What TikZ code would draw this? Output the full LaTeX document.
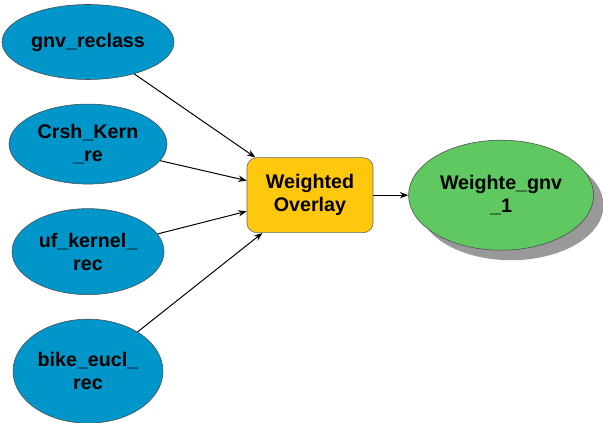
\documentclass[tikz,border=0pt]{standalone}
\usepackage{fontspec}
\setmainfont{Liberation Sans}
\usetikzlibrary{shapes.geometric,positioning,shadows,arrows.meta}

\definecolor{inblue}{RGB}{0,150,202}
\definecolor{toolyellow}{RGB}{255,200,12}
\definecolor{outgreen}{RGB}{96,200,96}

\begin{document}
\begin{tikzpicture}[>={Stealth[length=6pt,width=4.5pt]},node distance=0.6cm,
  font=\fontsize{14}{16.5}\selectfont\bfseries,
  data/.style={ellipse,draw=black!70,fill=inblue,inner sep=0pt,align=center},
  tool/.style={rectangle,rounded corners=7pt,draw=black!60,fill=toolyellow,align=center,
    minimum width=3.15cm,minimum height=1.875cm},
  result/.style={ellipse,draw=black!70,fill=outgreen,inner sep=0pt,align=center,
    drop shadow={shadow xshift=0.25cm,shadow yshift=-0.25cm,fill=black!40,opacity=1}}]

\useasboundingbox (0,0) rectangle (15.075,-10.575);

\node[data,minimum width=4.3cm,minimum height=1.875cm] (gnv) at (2.2,-1.05) {gnv\_reclass};
\node[data,minimum width=3.95cm,minimum height=2cm] (crsh) [below=of gnv] {Crsh\_Kern\\\_re};
\node[data,minimum width=3.8cm,minimum height=2.15cm] (uf) [below=of crsh] {uf\_kernel\_\\rec};
\node[data,minimum width=3.75cm,minimum height=2.6cm] (bike) [below=of uf] {bike\_eucl\_\\rec};

\node[tool] (overlay) at (7.75,-4.88) {Weighted\\Overlay};
\node[result,minimum width=4.625cm,minimum height=2.75cm] (out) [right=0.875cm of overlay] {Weighte\_gnv\\\_1};

\path[->,line width=0.7pt]
	(gnv) edge (overlay)
	(crsh) edge (overlay)
	(uf) edge (overlay)
	(bike) edge (overlay)
	(overlay) edge (out)
;

\end{tikzpicture}
\end{document}
